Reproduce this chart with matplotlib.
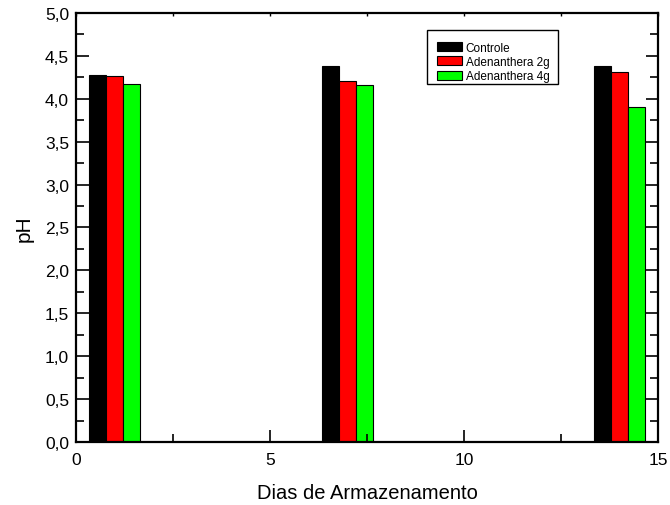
import matplotlib
matplotlib.use("Agg")
import matplotlib.pyplot as plt
import numpy as np
from matplotlib.ticker import MultipleLocator, FuncFormatter, NullFormatter
from matplotlib.patches import Rectangle

days = [1, 7, 14]
series_names = ["Controle", "Adenanthera 2g", "Adenanthera 4g"]
controle = [4.28, 4.38, 4.38]
aden2 = [4.27, 4.21, 4.31]
aden4 = [4.17, 4.16, 3.90]
colors = ["#000000", "#ff0000", "#00ff00"]

plt.rcParams['font.family'] = ['Liberation Sans', 'DejaVu Sans']

fig = plt.figure(figsize=(6.7, 5.06), dpi=100)
ax = fig.add_axes([0.1134, 0.1245, 0.8686, 0.848])

w = 0.44
x = np.array(days, dtype=float)
for i, (vals, name, c) in enumerate(zip([controle, aden2, aden4], series_names, colors)):
    ax.bar(x + (i - 1) * w, vals, width=w, color=c, edgecolor="black",
           linewidth=0.8, label=name)

ax.set_xlim(0, 15)
ax.set_ylim(0, 5.0)
ax.xaxis.set_major_locator(MultipleLocator(5))
ax.xaxis.set_minor_locator(MultipleLocator(2.5))
ax.yaxis.set_major_locator(MultipleLocator(0.5))
ax.yaxis.set_minor_locator(MultipleLocator(0.25))
ax.yaxis.set_major_formatter(FuncFormatter(lambda v, p: f"{v:.1f}".replace(".", ",")))
ax.xaxis.set_major_formatter(FuncFormatter(lambda v, p: f"{v:.0f}"))

ax.tick_params(axis="both", which="major", direction="in", length=9, width=1.2,
               labelsize=12.5, right=True, pad=5)
ax.tick_params(axis="both", which="minor", direction="in", length=6, width=1.2,
               right=True)
ax.tick_params(axis="x", which="both", top=False)
ax.tick_params(axis="x", which="major", pad=7)

# tiny top ticks
sec = ax.secondary_xaxis("top")
sec.xaxis.set_major_locator(MultipleLocator(2.5))
sec.xaxis.set_major_formatter(NullFormatter())
sec.tick_params(direction="in", length=2, width=1.0)
sec.spines["top"].set_visible(False)

for s in ax.spines.values():
    s.set_linewidth(1.6)

ax.set_xlabel("Dias de Armazenamento", fontsize=14.5, labelpad=12)
ax.set_ylabel("pH", fontsize=15, labelpad=8)

leg = ax.legend(loc="upper left", bbox_to_anchor=(0.620, 0.933), fontsize=8.5,
                frameon=False, borderaxespad=0, borderpad=0,
                handlelength=2.12, handleheight=0.8,
                labelspacing=0.2, handletextpad=0.34)
for h in leg.legend_handles:
    h.set_edgecolor("black")
    h.set_linewidth(0.8)

frame = Rectangle((0.603, 0.834), 0.225, 0.126, transform=ax.transAxes,
                  fill=False, edgecolor="black", linewidth=1.0, zorder=5)
ax.add_patch(frame)

fig.savefig("out.png", dpi=100)
